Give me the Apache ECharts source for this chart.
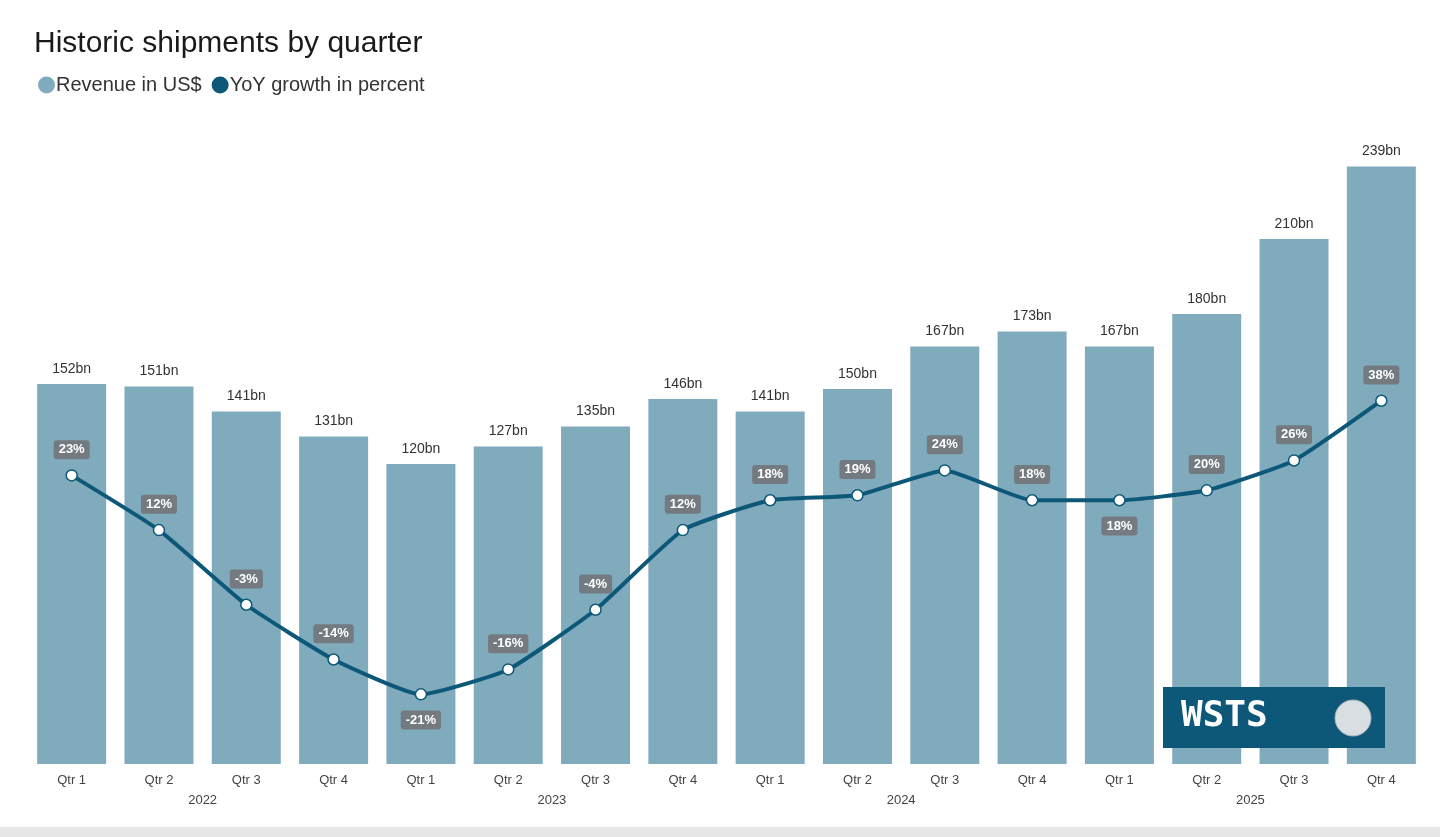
<!DOCTYPE html>
<html lang="en">
<head>
    <meta charset="UTF-8">
    <title>Historic shipments by quarter</title>
    <script src="https://cdn.jsdelivr.net/npm/echarts@6/dist/echarts.min.js"></script>
</head>
<body style="margin:0;background:#fff">
<div id="chart" style="width:1440px;height:837px"></div>
<script type="text/javascript">
    var quarters = ['Qtr 1', 'Qtr 2', 'Qtr 3', 'Qtr 4', 'Qtr 1', 'Qtr 2', 'Qtr 3', 'Qtr 4',
        'Qtr 1', 'Qtr 2', 'Qtr 3', 'Qtr 4', 'Qtr 1', 'Qtr 2', 'Qtr 3', 'Qtr 4'];
    var years = ['2022', '2023', '2024', '2025'];
    var revenue = [152, 151, 141, 131, 120, 127, 135, 146, 141, 150, 167, 173, 167, 180, 210, 239];
    var growth = [23, 12, -3, -14, -21, -16, -4, 12, 18, 19, 24, 18, 18, 20, 26, 38];
    var belowLabels = [4, 12]; // indices whose growth label sits under the point

    var chart = echarts.init(document.getElementById('chart'));
    var font = 'Liberation Sans, Arial, sans-serif';

    var growthData = growth.map(function (v, i) {
        return {
            value: v,
            label: {position: belowLabels.indexOf(i) >= 0 ? 'bottom' : 'top'}
        };
    });

    chart.setOption({
        animation: false,
        title: {
            text: 'Historic shipments by quarter',
            left: 29, top: 24,
            textStyle: {fontFamily: font, fontSize: 30, fontWeight: 'normal', color: '#1a1a1a'}
        },
        legend: {
            left: 33, top: 70, itemGap: 10, itemWidth: 17, itemHeight: 17,
            icon: 'circle',
            textStyle: {fontFamily: font, fontSize: 20, color: '#333', padding: [0, 0, 0, -4]},
            data: [
                {name: 'Revenue in US$', itemStyle: {color: '#80abbd'}},
                {name: 'YoY growth in percent', itemStyle: {color: '#0d5878', borderWidth: 0}}
            ]
        },
        grid: {left: 28, right: 15, top: 139, bottom: 73},
        xAxis: [{
            type: 'category',
            data: quarters,
            axisLine: {show: false},
            axisTick: {show: false},
            axisLabel: {fontFamily: font, fontSize: 13, color: '#444', margin: 10}
        }, {
            type: 'category',
            data: years,
            position: 'bottom',
            offset: 20,
            axisLine: {show: false},
            axisTick: {show: false},
            axisLabel: {fontFamily: font, fontSize: 13, color: '#444', margin: 10}
        }],
        yAxis: [{
            type: 'value', min: 0, max: 250, show: false, splitLine: {show: false}
        }, {
            type: 'value', min: -35, max: 90.6, show: false, splitLine: {show: false}
        }],
        series: [{
            name: 'Revenue in US$',
            type: 'bar',
            data: revenue,
            barWidth: 69,
            itemStyle: {color: '#80abbd'},
            label: {
                show: true, position: 'top', distance: 8,
                fontFamily: font, fontSize: 14, color: '#333',
                formatter: '{c}bn'
            }
        }, {
            name: 'YoY growth in percent',
            type: 'line',
            yAxisIndex: 1,
            data: growthData,
            smooth: 0.15,
            symbol: 'circle',
            symbolSize: 11,
            lineStyle: {color: '#0d5878', width: 4},
            itemStyle: {color: '#fff', borderColor: '#0d5878', borderWidth: 1.5},
            label: {
                show: true, distance: 10,
                fontFamily: font, fontSize: 13, fontWeight: 'bold', color: '#fff',
                backgroundColor: '#737b80', borderRadius: 3, padding: [3, 5],
                formatter: '{c}%'
            }
        }],
        graphic: [{
            type: 'rect', left: 0, top: 827,
            shape: {width: 1440, height: 10},
            style: {fill: '#e6e6e6'}
        }, {
            type: 'group', left: 1163, top: 687, z: 100,
            children: [{
                type: 'rect', shape: {width: 222, height: 61}, z: 100,
                style: {fill: '#0d5878'}
            }, {
                type: 'text', left: 18, top: 12, z: 101,
                style: {text: 'WSTS', font: 'bold 36px "DejaVu Sans Mono", monospace', fill: '#fff'}
            }, {
                type: 'circle', shape: {cx: 190, cy: 31, r: 18}, z: 101,
                style: {fill: '#d9dee2', stroke: '#aab4bb', lineWidth: 1}
            }]
        }]
    });
</script>
</body>
</html>
